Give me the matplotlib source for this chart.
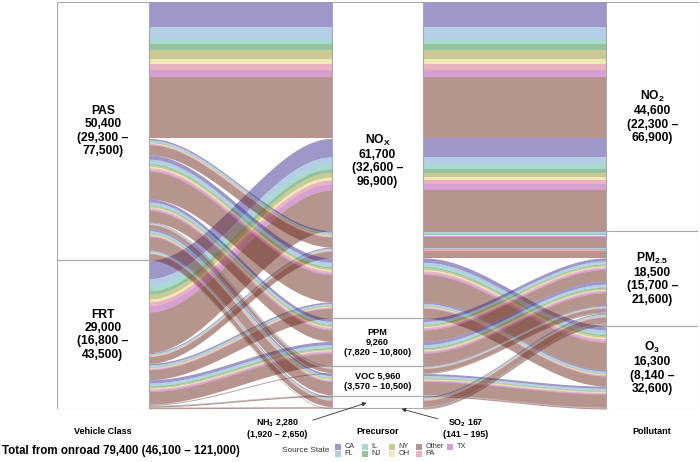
import matplotlib.pyplot as plt
import numpy as np
from matplotlib.patches import Rectangle
from matplotlib import transforms

plt.rcParams['font.family'] = ['Liberation Sans', 'DejaVu Sans']
plt.rcParams['mathtext.fontset'] = 'custom'
plt.rcParams['mathtext.rm'] = 'Liberation Sans:bold'
plt.rcParams['mathtext.bf'] = 'Liberation Sans:bold'
plt.rcParams['mathtext.default'] = 'bf'

# axis categories, top to bottom
vehicles = ['PAS', 'FRT']
precursors = ['NOx', 'PPM', 'VOC', 'NH3', 'SO2']
pollutants = ['NO2', 'PM2.5', 'O3']

# stacking order inside every flow, and legend order
states = ['CA', 'FL', 'IL', 'NJ', 'NY', 'OH', 'PA', 'TX', 'Other']
legend_states = ['CA', 'FL', 'IL', 'NJ', 'NY', 'OH', 'Other', 'PA', 'TX']
state_colors = {
    'CA': '#413191', 'FL': '#6b9fcd', 'IL': '#51b99f', 'NJ': '#2d8741',
    'NY': '#97972d', 'OH': '#e1d371', 'PA': '#d76787', 'TX': '#af43a7',
    'Other': '#6d2d1f',
}

# flows: vehicle class -> precursor -> pollutant, split by source state
flow_vehicle = ['PAS', 'FRT', 'PAS', 'FRT', 'PAS', 'FRT', 'PAS', 'FRT',
                'PAS', 'FRT', 'PAS', 'FRT', 'PAS', 'FRT', 'PAS', 'FRT']
flow_precursor = ['NOx', 'NOx', 'NOx', 'NOx', 'NOx', 'NOx', 'PPM', 'PPM',
                  'VOC', 'VOC', 'VOC', 'VOC', 'NH3', 'NH3', 'SO2', 'SO2']
flow_pollutant = ['NO2', 'NO2', 'PM2.5', 'PM2.5', 'O3', 'O3', 'PM2.5', 'PM2.5',
                  'PM2.5', 'PM2.5', 'O3', 'O3', 'PM2.5', 'PM2.5', 'PM2.5', 'PM2.5']
# columns: CA, FL, IL, NJ, NY, OH, PA, TX, Other
flow_by_state = [
    [4790, 2660, 800, 1190, 1730, 980, 1190, 1330, 11930],
    [3600, 1440, 900, 720, 900, 540, 720, 1260, 7920],
    [320, 220, 100, 100, 130, 100, 130, 130, 1970],
    [210, 150, 60, 60, 80, 60, 80, 80, 1320],
    [860, 600, 250, 250, 340, 250, 340, 340, 5370],
    [320, 220, 100, 100, 130, 100, 130, 130, 1970],
    [600, 400, 150, 200, 250, 150, 250, 250, 2250],
    [620, 380, 190, 240, 240, 140, 190, 290, 2470],
    [130, 90, 40, 40, 50, 40, 50, 50, 810],
    [20, 14, 6, 6, 8, 6, 8, 8, 124],
    [410, 290, 120, 120, 160, 120, 160, 160, 2570],
    [35, 25, 10, 10, 14, 10, 14, 14, 218],
    [200, 130, 60, 60, 80, 60, 80, 80, 1197],
    [33, 23, 10, 10, 13, 10, 13, 13, 208],
    [11, 8, 3, 3, 4, 3, 4, 4, 70],
    [6, 4, 2, 2, 2, 2, 2, 2, 35],
]

stratum_labels = {
    'PAS': 'PAS\n50,400\n(29,300 –\n77,500)',
    'FRT': 'FRT\n29,000\n(16,800 –\n43,500)',
    'NOx': 'NO$_X$\n61,700\n(32,600 –\n96,900)',
    'PPM': 'PPM\n9,260\n(7,820 – 10,800)',
    'VOC': 'VOC 5,960\n(3,570 – 10,500)',
    'NO2': 'NO$_2$\n44,600\n(22,300 –\n66,900)',
    'PM2.5': 'PM$_{2.5}$\n18,500\n(15,700 –\n21,600)',
    'O3': 'O$_3$\n16,300\n(8,140 –\n32,600)',
}
small_labels = ['PPM', 'VOC']
axis_titles = ['Vehicle Class', 'Precursor', 'Pollutant']

# one alluvium per flow and state
alluvia = []
for i in range(len(flow_by_state)):
    for j, s in enumerate(states):
        alluvia.append((flow_vehicle[i], flow_precursor[i], flow_pollutant[i], s, flow_by_state[i][j]))

total = sum(a[4] for a in alluvia)
axes_cats = [vehicles, precursors, pollutants]


def rank(a):
    return (vehicles.index(a[0]), precursors.index(a[1]), pollutants.index(a[2]), states.index(a[3]))


def lode_positions(key_order):
    # key_order: which ranks to sort by at this axis (zigzag like ggalluvial)
    order = sorted(range(len(alluvia)), key=lambda k: tuple(rank(alluvia[k])[i] for i in key_order))
    pos = {}
    y = 0.0
    for k in order:
        pos[k] = (y, y + alluvia[k][4])
        y += alluvia[k][4]
    return pos


positions = [lode_positions((0, 1, 2, 3)),
             lode_positions((1, 2, 0, 3)),
             lode_positions((2, 1, 0, 3))]

W, H = 700, 462
fig = plt.figure(figsize=(7, 4.62), dpi=100)
ax = fig.add_axes([57 / W, 1 - 409 / H, 641 / W, 407 / H])
w = 1 / 3
ax.set_xlim(1 - w / 2, 3 + w / 2)
ax.set_ylim(total, 0)
ax.axis('off')

# flows
for seg in range(2):
    x0 = seg + 1 + w / 2
    x1 = seg + 2 - w / 2
    xs = np.linspace(x0, x1, 80)
    t = (xs - x0) / (x1 - x0)
    s = t * t * (3 - 2 * t)
    for k, a in enumerate(alluvia):
        if a[4] <= 0:
            continue
        t0, b0 = positions[seg][k]
        t1, b1 = positions[seg + 1][k]
        ax.fill_between(xs, t0 + (t1 - t0) * s, b0 + (b1 - b0) * s,
                        color=state_colors[a[3]], alpha=0.5, lw=0)

# strata boxes and labels
for i, cats in enumerate(axes_cats):
    y = 0.0
    for c in cats:
        v = sum(a[4] for a in alluvia if a[i] == c)
        ax.add_patch(Rectangle((i + 1 - w / 2, y), w, v, facecolor='white',
                               edgecolor='#a8a8a8', lw=0.8, zorder=3))
        if c in stratum_labels:
            fs = 6.6 if c in small_labels else 8.7
            ax.text(i + 1, y + v / 2, stratum_labels[c], ha='center', va='center',
                    fontsize=fs, fontweight='bold', linespacing=1.15, zorder=4)
        y += v

tr = transforms.blended_transform_factory(ax.transData, fig.transFigure)
for x, t in zip([1, 2, 3], axis_titles):
    fig.text(x, 1 - 432 / H, t, transform=tr, ha='center', va='center',
             fontsize=6.5, fontweight='bold')

# NH3 and SO2 callouts
ax.annotate('NH$_3$ 2,280\n(1,920 – 2,650)', xy=(2 - 11 / 275, total - 1200),
            xytext=(277, H - 428), textcoords='figure pixels',
            ha='center', va='center', fontsize=6.4, fontweight='bold',
            annotation_clip=False,
            arrowprops=dict(arrowstyle='-|>', color='#333333', lw=0.6,
                            mutation_scale=6, relpos=(1, 0.78), shrinkA=2, shrinkB=0))
ax.annotate('SO$_2$ 167\n(141 – 195)', xy=(2 + 24 / 275, total - 20),
            xytext=(466, H - 428), textcoords='figure pixels',
            ha='center', va='center', fontsize=6.4, fontweight='bold',
            annotation_clip=False,
            arrowprops=dict(arrowstyle='-|>', color='#333333', lw=0.6,
                            mutation_scale=6, relpos=(0, 0.85), shrinkA=2, shrinkB=0))

fig.text(2 / W, 1 - 451 / H, 'Total from onroad 79,400 (46,100 – 121,000)',
         ha='left', va='center', fontsize=8.3, fontweight='bold')

# legend: two rows, filled column by column
fig.text(282 / W, 1 - 451 / H, 'Source State', ha='left', va='center',
         fontsize=5.9, color='#333333')
legend_cols = [335, 362, 389, 416, 447]
for idx, st in enumerate(legend_states):
    col, row = idx // 2, idx % 2
    lx = legend_cols[col]
    ly = 447 + row * 6.5
    fig.patches.append(Rectangle((lx / W, 1 - (ly + 3) / H), 5.5 / W, 6 / H,
                                 transform=fig.transFigure, facecolor=state_colors[st],
                                 alpha=0.5, lw=0))
    fig.text((lx + 9.5) / W, 1 - ly / H, st, ha='left', va='center',
             fontsize=5.3, color='#333333')

fig.savefig('out.png', dpi=100)
